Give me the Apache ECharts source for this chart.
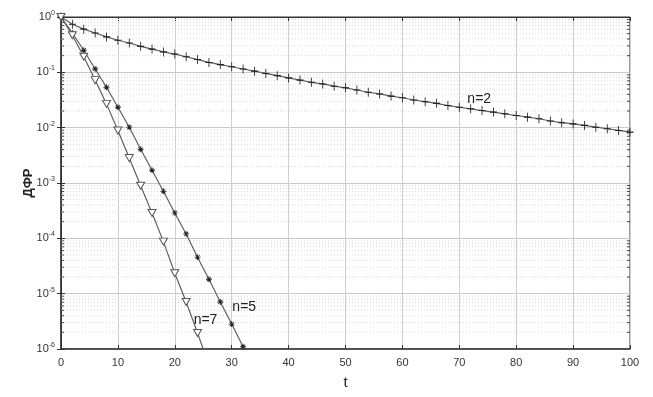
<!DOCTYPE html>
<html><head><meta charset="utf-8">
<script src="https://cdn.jsdelivr.net/npm/echarts@6/dist/echarts.min.js"></script>
<style>html,body{margin:0;padding:0;background:#fff}#c{width:653px;height:397px}</style>
</head><body><div id="c"></div>
<script>
// time points (every 2 units)
const tN2 = [0,2,4,6,8,10,12,14,16,18,20,22,24,26,28,30,32,34,36,38,40,42,44,46,48,50,52,54,56,58,60,62,64,66,68,70,72,74,76,78,80,82,84,86,88,90,92,94,96,98,100];
const vN2 = [1,0.741,0.603,0.513,0.437,0.380,0.339,0.295,0.263,0.234,0.214,0.191,0.170,0.151,0.138,0.126,0.115,0.105,0.0955,0.0871,0.0794,0.0724,0.0661,0.0617,0.0562,0.0525,0.0479,0.0437,0.0407,0.0372,0.0347,0.0316,0.0295,0.0275,0.0251,0.0234,0.0219,0.0204,0.0191,0.0178,0.0166,0.0155,0.0145,0.0132,0.0123,0.0117,0.0110,0.0102,0.00955,0.00891,0.00832];
const tN5 = [0,2,4,6,8,10,12,14,16,18,20,22,24,26,28,30,32,34];
const vN5 = [1,0.513,0.251,0.115,0.0537,0.0234,0.0102,0.00407,0.0017,7.08e-4,2.88e-4,1.20e-4,4.57e-5,1.82e-5,7.08e-6,2.82e-6,1.10e-6,4.37e-7];
const tN7 = [0,2,4,6,8,10,12,14,16,18,20,22,24,26];
const vN7 = [1,0.468,0.191,0.0724,0.0269,0.00891,0.00282,8.91e-4,2.88e-4,8.71e-5,2.34e-5,7.08e-6,1.95e-6,5.0e-7];
// curve labels [t, value, text]
const labelN2 = [73.5, 0.033, 'n=2'];
const labelN5 = [32.2, 5.7e-6, 'n=5'];
const labelN7 = [25.4, 3.3e-6, 'n=7'];
// axis ranges
const xMin = 0, xMax = 100, xStep = 10;
const yMin = 1e-6, yMax = 1;
const yLabel = 'ДФР', xLabel = 't';

// minor log grid positions
const minorVals = [];
for (let e = -6; e < 0; e++) for (let m = 2; m <= 9; m++) minorVals.push(m * Math.pow(10, e));

const plusPath = 'path://M-0.12,-1H0.12V-0.12H1V0.12H0.12V1H-0.12V0.12H-1V-0.12H-0.12Z';
const starPath = 'path://M-0.14,-1H0.14V1H-0.14Z M-1,-0.14H1V0.14H-1Z M-0.79,-0.6L-0.6,-0.79L0.79,0.6L0.6,0.79Z M0.6,-0.79L0.79,-0.6L-0.6,0.79L-0.79,0.6Z';
const fontF = 'Liberation Sans, Arial, sans-serif';

function pts(ts, vs, lastNoSymbol) {
  return ts.map((t, i) => {
    const d = {value: [t, vs[i]]};
    if (lastNoSymbol && i === ts.length - 1) d.symbol = 'none';
    return d;
  });
}
const labels = [labelN2, labelN5, labelN7];
const lineCol = '#606060';
const chart = echarts.init(document.getElementById('c'), null, {renderer: 'canvas'});
chart.setOption({
  animation: false,
  backgroundColor: '#fff',
  grid: {left: 61, right: 23, top: 17, bottom: 48, show: true, borderColor: '#333', borderWidth: 1, backgroundColor: 'transparent'},
  xAxis: [{
    type: 'value', min: xMin, max: xMax, interval: xStep,
    name: xLabel, nameLocation: 'middle', nameGap: 26, nameTextStyle: {fontSize: 15, color: '#222', fontFamily: fontF},
    axisLine: {show: true, lineStyle: {color: '#333', width: 1.5}},
    axisTick: {show: true, inside: true, length: 4, lineStyle: {color: '#333'}},
    axisLabel: {fontSize: 11, color: '#333', margin: 8, fontFamily: fontF},
    splitLine: {show: true, lineStyle: {color: '#cfcfcf', width: 1}}
  }, {
    type: 'value', position: 'top', min: xMin, max: xMax, interval: xStep,
    axisLine: {show: true, lineStyle: {color: '#333'}},
    axisTick: {show: true, inside: true, length: 4, lineStyle: {color: '#333'}},
    axisLabel: {show: false}, splitLine: {show: false}
  }],
  yAxis: [{
    type: 'log', logBase: 10, min: yMin, max: yMax,
    name: yLabel, nameLocation: 'middle', nameGap: 26, nameRotate: 90, nameMoveOverlap: false,
    nameTextStyle: {fontSize: 13, fontWeight: 'bold', color: '#222', fontFamily: fontF},
    axisLine: {show: true, lineStyle: {color: '#333', width: 1.5}},
    axisTick: {show: true, inside: true, length: 4, lineStyle: {color: '#333'}},
    minorTick: {show: false},
    axisLabel: {
      margin: 6, color: '#333', fontFamily: fontF,
      formatter: v => '{b|10}{s|' + Math.round(Math.log10(v)) + '}',
      rich: {b: {fontSize: 11, color: '#333', fontFamily: fontF}, s: {fontSize: 7, color: '#333', fontFamily: fontF, padding: [0, 0, 8, 0]}}
    },
    splitLine: {show: true, lineStyle: {color: '#c8c8c8', width: 1}}
  }, {
    type: 'log', logBase: 10, min: yMin, max: yMax, position: 'right',
    axisLine: {show: true, lineStyle: {color: '#333'}},
    axisTick: {show: true, inside: true, length: 4, lineStyle: {color: '#333'}},
    axisLabel: {show: false}, splitLine: {show: false}
  }],
  series: [
    {
      name: 'minor-grid', type: 'custom', silent: true, z: 1,
      data: minorVals.map(v => [v]),
      encode: {y: 0},
      renderItem: (params, api) => {
        const v = api.value(0);
        const a = api.coord([xMin, v]), b = api.coord([xMax, v]);
        return {type: 'group', children: [
          {type: 'line', shape: {x1: a[0], y1: a[1], x2: b[0], y2: b[1]},
           style: {stroke: '#d6d6d6', lineWidth: 1, lineDash: [1, 2]}},
          {type: 'line', shape: {x1: a[0], y1: a[1], x2: a[0] + 3, y2: a[1]}, style: {stroke: '#444', lineWidth: 1}},
          {type: 'line', shape: {x1: b[0] - 3, y1: b[1], x2: b[0], y2: b[1]}, style: {stroke: '#444', lineWidth: 1}}
        ]};
      }
    },
    {
      name: 'curve-labels', type: 'custom', silent: true, z: 6,
      data: labels.map(l => [l[0], l[1]]),
      renderItem: (params, api) => {
        const p = api.coord([api.value(0), api.value(1)]);
        return {type: 'text', x: p[0], y: p[1],
          style: {text: labels[params.dataIndex][2], fill: '#222', font: '14px ' + fontF, align: 'center', verticalAlign: 'middle'}};
      }
    },
    {
      name: 'n=2', type: 'line', data: pts(tN2, vN2, false),
      symbol: plusPath, symbolSize: [7, 9],
      lineStyle: {color: lineCol, width: 1.2},
      itemStyle: {color: '#222'}, z: 5
    },
    {
      name: 'n=5', type: 'line', data: pts(tN5, vN5, true),
      symbol: starPath, symbolSize: 6, clip: true,
      lineStyle: {color: lineCol, width: 1.2},
      itemStyle: {color: '#222'}, z: 5
    },
    {
      name: 'n=7', type: 'line', data: pts(tN7, vN7, true),
      symbol: 'triangle', symbolRotate: 180, symbolSize: [8, 7], clip: true,
      lineStyle: {color: lineCol, width: 1.2},
      itemStyle: {color: '#fff', borderColor: '#555', borderWidth: 1}, z: 5
    }
  ]
});
</script></body></html>
